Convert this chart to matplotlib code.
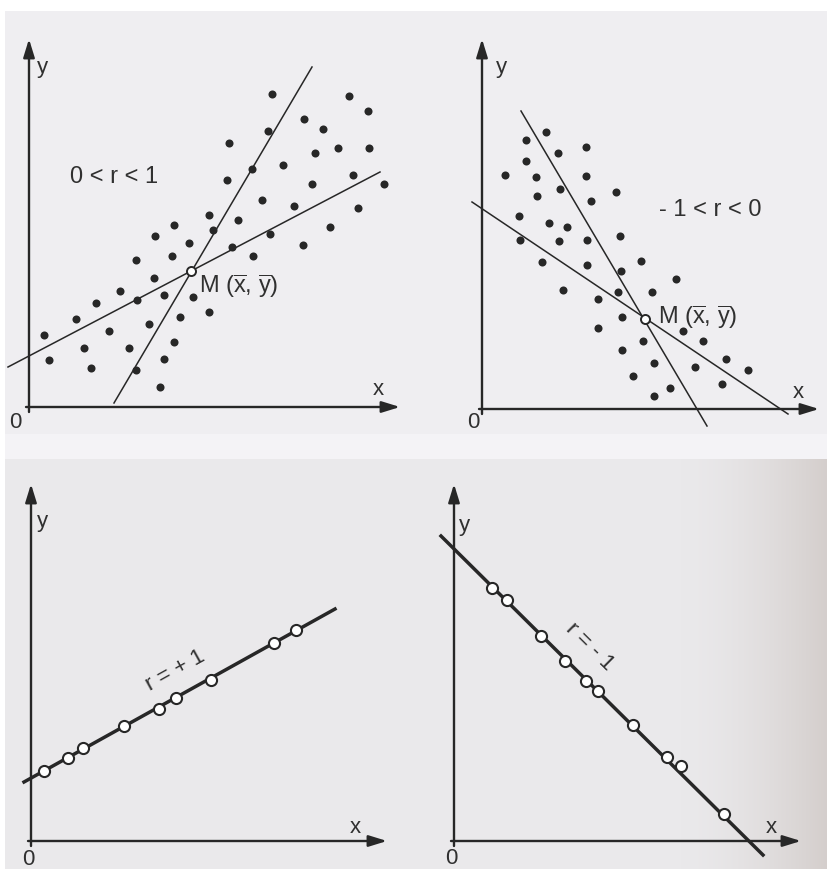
import numpy as np
import matplotlib.pyplot as plt

# ---- data (pixel units measured from each panel's origin, y upwards) ----

# panel 1: positive correlation cloud
p1_x = [243, 320, 339, 275, 294, 239, 200, 286, 309, 340, 254, 223, 198, 324, 283, 355, 233, 265,
        329, 180, 209, 184, 301, 145, 126, 160, 241, 203, 274, 107, 143, 224, 125, 91, 135, 164,
        108, 67, 151, 180, 47, 120, 80, 15, 145, 55, 100, 20, 135, 107, 62, 131]
p1_y = [313, 311, 296, 288, 278, 276, 264, 254, 259, 259, 242, 238, 227, 232, 223, 223, 207, 201,
        199, 192, 187, 177, 180, 182, 171, 164, 173, 160, 162, 147, 151, 151, 129, 116, 112, 110,
        107, 104, 90, 95, 88, 83, 76, 72, 65, 59, 59, 47, 48, 37, 39, 20]
p1_mean = (162, 136)
p1_steep_x, p1_steep_y = [85, 283], [4, 340]
p1_flat_x, p1_flat_y = [-21, 351], [40, 235]

# panel 2: negative correlation cloud
p2_x = [64, 44, 104, 76, 44, 23, 54, 104, 134, 78, 55, 109, 37, 67, 85, 38, 77, 105, 138, 60,
        105, 139, 159, 194, 81, 136, 170, 116, 140, 116, 201, 161, 221, 140, 244, 172, 213, 266,
        151, 240, 188, 172]
p2_y = [277, 269, 262, 256, 248, 234, 232, 233, 217, 220, 213, 208, 193, 186, 182, 169, 168, 169,
        173, 147, 144, 138, 148, 130, 119, 117, 117, 110, 92, 81, 78, 68, 68, 59, 50, 46, 42, 39,
        33, 25, 21, 13]
p2_mean = (163, 90)
p2_steep_x, p2_steep_y = [39, 225], [298, -17]
p2_flat_x, p2_flat_y = [-10, 306], [207, -5]

# panel 3: r = +1
p3_x = [13, 37, 52, 93, 128, 145, 180, 243, 265]
p3_y = [70, 83, 93, 115, 132, 143, 161, 198, 211]
p3_line_x, p3_line_y = [-7, 304], [59, 232]

# panel 4: r = -1
p4_x = [38, 53, 87, 111, 132, 144, 179, 213, 227, 270]
p4_y = [253, 241, 205, 180, 160, 150, 116, 84, 75, 27]
p4_line_x, p4_line_y = [-13, 309], [305, -14]

# ---- style ----
plt.rcParams['font.family'] = ['Liberation Sans', 'DejaVu Sans']
plt.rcParams['mathtext.fontset'] = 'custom'
plt.rcParams['mathtext.rm'] = 'Liberation Sans'
plt.rcParams['mathtext.it'] = 'Liberation Sans'

INK = '#272727'
TXT = '#303030'
W, H = 827, 870

fig = plt.figure(figsize=(W / 100, H / 100), dpi=100)

# scanned-paper background
bg = np.ones((H, W, 3))
bg[:, :] = np.array([239, 238, 241]) / 255
bg[435:460, :] = np.array([244, 243, 246]) / 255
cols = np.arange(W)
t = np.clip((cols - 680) / (W - 680), 0, 1) ** 1.6
dark = np.array([212, 206, 204]) / 255
base = np.array([234, 233, 235]) / 255
bg[460:, :, :] = base + (dark - base) * t[None, :, None]
bg[:12, :] = 1.0
bg[:, :5] = 1.0
bga = fig.add_axes([0, 0, 1, 1])
bga.imshow(bg, aspect='auto', interpolation='bilinear')
bga.axis('off')


def panel(rect, origin):
    L, T, R, B = rect
    X0, Y0 = origin
    ax = fig.add_axes([L / W, 1 - B / H, (R - L) / W, (B - T) / H])
    ax.set_xlim(L - X0, R - X0)
    ax.set_ylim(Y0 - B, Y0 - T)
    ax.axis('off')
    ax.patch.set_alpha(0)
    return ax


def draw_frame(ax, xend, yend, ypos, xpos, zpos):
    arrow = dict(arrowstyle='-|>,head_length=0.55,head_width=0.17', color=INK, lw=1.7,
                 mutation_scale=20, shrinkA=0, shrinkB=0)
    ax.annotate('', xy=(xend, 0), xytext=(-3, 0), arrowprops=arrow)
    ax.annotate('', xy=(0, yend), xytext=(0, -5), arrowprops=arrow)
    ax.text(*ypos, 'y', fontsize=16, color=TXT, ha='center', va='center')
    ax.text(*xpos, 'x', fontsize=16, color=TXT, ha='center', va='center')
    ax.text(*zpos, '0', fontsize=16, color=TXT, ha='center', va='center')


mean_label = r'M ($\overline{\mathrm{x}}$, $\overline{\mathrm{y}}$)'

# panel 1
ax1 = panel((0, 0, 414, 435), (29, 408))
draw_frame(ax1, 371, 368, (13, 340), (349, 18), (-14, -15))
ax1.plot(p1_steep_x, p1_steep_y, color=INK, lw=1.1)
ax1.plot(p1_flat_x, p1_flat_y, color=INK, lw=1.1)
ax1.plot(p1_x, p1_y, 'o', color=INK, ms=5.8, mew=0)
ax1.plot(*p1_mean, 'o', mfc='white', mec=INK, ms=6.5, mew=1.4)
ax1.text(41, 231, '0 < r < 1', fontsize=17, color=TXT, va='center')
ax1.text(170, 122, mean_label, fontsize=17, color=TXT, va='center')

# panel 2
ax2 = panel((414, 0, 827, 435), (482, 410))
draw_frame(ax2, 337, 370, (19, 342), (316, 17), (-9, -13))
ax2.plot(p2_steep_x, p2_steep_y, color=INK, lw=1.1)
ax2.plot(p2_flat_x, p2_flat_y, color=INK, lw=1.1)
ax2.plot(p2_x, p2_y, 'o', color=INK, ms=5.8, mew=0)
ax2.plot(*p2_mean, 'o', mfc='white', mec=INK, ms=6.5, mew=1.4)
ax2.text(177, 200, '- 1 < r < 0', fontsize=17, color=TXT, va='center')
ax2.text(176, 93, mean_label, fontsize=17, color=TXT, va='center')

# panel 3
ax3 = panel((0, 435, 414, 870), (31, 842))
draw_frame(ax3, 356, 357, (11, 320), (324, 14), (-3, -18))
ax3.plot(p3_line_x, p3_line_y, color=INK, lw=2.5)
ax3.plot(p3_x, p3_y, 'o', mfc='white', mec=INK, ms=8, mew=1.5)
ax3.text(144, 171, 'r = + 1', fontsize=16, color=TXT, rotation=29,
         ha='center', va='center', rotation_mode='anchor')

# panel 4
ax4 = panel((414, 435, 827, 870), (454, 842))
draw_frame(ax4, 347, 357, (10, 317), (317, 14), (-3, -17))
ax4.plot(p4_line_x, p4_line_y, color=INK, lw=2.5)
ax4.plot(p4_x, p4_y, 'o', mfc='white', mec=INK, ms=8, mew=1.5)
ax4.text(136, 195, 'r = - 1', fontsize=16, color=TXT, rotation=-44.7,
         ha='center', va='center', rotation_mode='anchor')

fig.savefig('out.png', dpi=100)
